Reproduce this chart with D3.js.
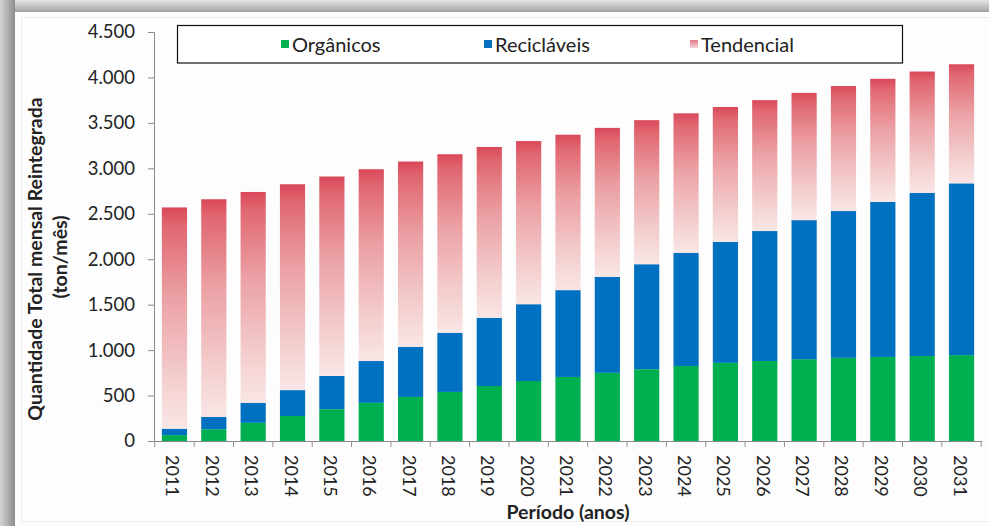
<!DOCTYPE html>
<html>
<head>
<meta charset="utf-8">
<script src="https://cdn.jsdelivr.net/npm/d3@7"></script>
<style>
  html, body { margin: 0; padding: 0; background: #ffffff; }
  svg { display: block; }
  text { font-family: Lato, "Open Sans", "DejaVu Sans", sans-serif; fill: #222; }
</style>
</head>
<body>
<svg id="chart" width="989" height="526"></svg>
<script>
// ---- data ----
const years = ["2011","2012","2013","2014","2015","2016","2017","2018","2019","2020","2021",
               "2022","2023","2024","2025","2026","2027","2028","2029","2030","2031"];
const organicos   = [65,130,200,275,350,420,485,540,605,660,705,750,790,825,860,880,900,915,925,935,945];
const reciclaveis = [70,135,220,285,365,460,550,650,750,845,955,1055,1155,1245,1330,1430,1530,1615,1705,1795,1890];
const tendencial  = [2435,2395,2320,2265,2195,2110,2040,1965,1880,1795,1710,1640,1585,1535,1485,1440,1400,1375,1355,1335,1310];
const seriesNames = ["Orgânicos","Recicláveis","Tendencial"];
const yTicks = [0,500,1000,1500,2000,2500,3000,3500,4000,4500];
const yTitle1 = "Quantidade Total mensal Reintegrada";
const yTitle2 = "(ton/mês)";
const xTitle = "Período (anos)";

// ---- setup ----
const svg = d3.select("#chart");
const W = 989, H = 526;
const defs = svg.append("defs");

// frame shadow gradients
const gTop = defs.append("linearGradient").attr("id","shTop").attr("x1",0).attr("y1",0).attr("x2",0).attr("y2",1);
gTop.append("stop").attr("offset","0%").attr("stop-color","#e6e6e6");
gTop.append("stop").attr("offset","100%").attr("stop-color","#9c9c9c");
const gLeft = defs.append("linearGradient").attr("id","shLeft").attr("x1",0).attr("y1",0).attr("x2",1).attr("y2",0);
gLeft.append("stop").attr("offset","0%").attr("stop-color","#d4d4d4");
gLeft.append("stop").attr("offset","100%").attr("stop-color","#8c8c8c");

// Tendencial gradient
const gT = defs.append("linearGradient").attr("id","tend").attr("x1",0).attr("y1",0).attr("x2",0).attr("y2",1);
[["0%","#d9485a"],["8%","#e06670"],["40%","#eba0a4"],["75%","#f3cbcb"],["100%","#f9e6e6"]]
  .forEach(([o,c]) => gT.append("stop").attr("offset",o).attr("stop-color",c));
const gTL = defs.append("linearGradient").attr("id","tendLeg").attr("x1",0).attr("y1",0).attr("x2",0).attr("y2",1);
gTL.append("stop").attr("offset","0%").attr("stop-color","#e07a88");
gTL.append("stop").attr("offset","100%").attr("stop-color","#f6d2d6");

// background / frame
svg.append("rect").attr("x",0).attr("y",0).attr("width",W).attr("height",H).attr("fill","#ffffff");
svg.append("rect").attr("x",0).attr("y",0).attr("width",W).attr("height",13).attr("fill","url(#shTop)");
svg.append("rect").attr("x",0).attr("y",0).attr("width",15).attr("height",H).attr("fill","url(#shLeft)");
svg.append("rect").attr("x",15).attr("y",12).attr("width",W-15).attr("height",H-12).attr("fill","#fdfdfd");
svg.append("rect").attr("x",21.5).attr("y",17.5).attr("width",W-21).attr("height",504)
   .attr("fill","none").attr("stroke","#ececec").attr("stroke-width",1);

// scales
const x = d3.scaleBand().domain(years).range([154, 982]).paddingInner(0.36).paddingOuter(0.2);
const y = d3.scaleLinear().domain([0, 4500]).range([441, 32]);

// stacked data
const rows = years.map((yr,i) => ({year: yr, org: organicos[i], rec: reciclaveis[i], ten: tendencial[i]}));
const stack = d3.stack().keys(["org","rec","ten"]);
const stacked = stack(rows);
const fills = {org: "#00b050", rec: "#0070c0", ten: "url(#tend)"};

const barsG = svg.append("g");
stacked.forEach(layer => {
  barsG.append("g").attr("fill", fills[layer.key])
    .selectAll("rect").data(layer).join("rect")
    .attr("x", d => x(d.data.year))
    .attr("width", x.bandwidth())
    .attr("y", d => y(d[1]))
    .attr("height", d => y(d[0]) - y(d[1]));
});

// axes
const loc = d3.formatLocale({decimal: ",", thousands: ".", grouping: [3], currency: ["",""]});
const fmt = loc.format(",");

const yAxis = svg.append("g").attr("transform","translate(154,0)")
  .call(d3.axisLeft(y).tickValues(yTicks).tickFormat(fmt).tickSize(6).tickPadding(13));
yAxis.select(".domain").attr("stroke","#8a8a8a");
yAxis.selectAll(".tick line").attr("stroke","#8a8a8a");
yAxis.selectAll(".tick text").attr("font-size","18.5px").attr("fill","#222")
  .attr("font-family","Lato, 'Open Sans', sans-serif");

const xAxis = svg.append("g").attr("transform","translate(0,441)")
  .call(d3.axisBottom(x).tickSize(0).tickFormat(d => d));
xAxis.select(".domain").attr("stroke","#8a8a8a");
xAxis.selectAll(".tick text")
  .attr("font-size","18px").attr("fill","#222")
  .attr("font-family","Lato, 'Open Sans', sans-serif")
  .attr("text-anchor","start")
  .attr("dy", null)
  .attr("y", null)
  .attr("dominant-baseline","central")
  .attr("transform","translate(-1,14) rotate(90)");
// boundary ticks between categories
const boundaries = years.map(yr => x(yr) - x.step()*x.paddingInner()/2);
boundaries.push(x(years[years.length-1]) + x.bandwidth() + x.step()*x.paddingInner()/2);
svg.append("g").selectAll("line").data(boundaries).join("line")
  .attr("x1", d => d).attr("x2", d => d).attr("y1", 441).attr("y2", 447)
  .attr("stroke", "#a08a8e").attr("stroke-width", 1);

// axis titles
svg.append("text").attr("transform","translate(42,259) rotate(-90)")
  .attr("text-anchor","middle").attr("font-weight","bold").attr("font-size","19.5px").text(yTitle1);
svg.append("text").attr("transform","translate(67,257) rotate(-90)")
  .attr("text-anchor","middle").attr("font-weight","bold").attr("font-size","19.5px").text(yTitle2);
svg.append("text").attr("x",568).attr("y",519)
  .attr("text-anchor","middle").attr("font-weight","bold").attr("font-size","19.5px").text(xTitle);

// legend
const leg = svg.append("g");
leg.append("rect").attr("x",177.5).attr("y",25.5).attr("width",725).attr("height",37.5)
  .attr("fill","#ffffff").attr("stroke","#111").attr("stroke-width",1.2);
const legX = [281, 484, 690];
const legFill = ["#00b050", "#0070c0", "url(#tendLeg)"];
seriesNames.forEach((name, i) => {
  leg.append("rect").attr("x", legX[i]).attr("y", 40).attr("width", 8).attr("height", 8).attr("fill", legFill[i]);
  leg.append("text").attr("x", legX[i] + 11).attr("y", 44).attr("dominant-baseline","central")
    .attr("font-size","20px").text(name);
});
</script>
</body>
</html>
